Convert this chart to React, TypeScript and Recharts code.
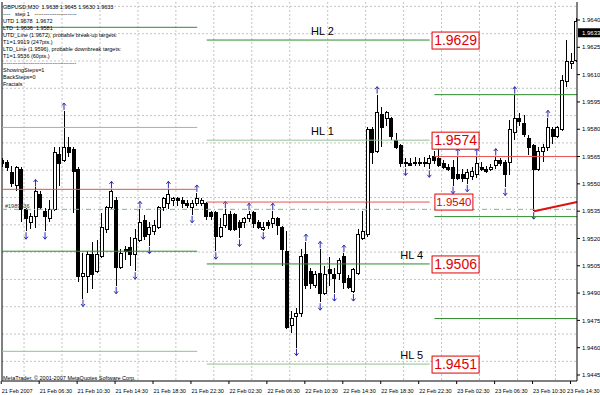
import React from "react";
import {
  ComposedChart,
  Bar,
  XAxis,
  YAxis,
  CartesianGrid,
  ReferenceLine,
  ReferenceDot,
} from "recharts";

// GBPUSD M30, one value per bar
const OPEN = [
  1.9563, 1.9562, 1.9556, 1.9549, 1.9558, 1.9536, 1.9529, 1.9532, 1.9544, 1.9535,
  1.9531, 1.9536, 1.9566, 1.9563, 1.957, 1.9569, 1.9558, 1.9499, 1.9499, 1.9511,
  1.9502, 1.951, 1.9525, 1.9537, 1.9541, 1.9504, 1.9514, 1.9515, 1.9511, 1.9519,
  1.953, 1.9522, 1.9524, 1.9526, 1.9537, 1.9539, 1.9541, 1.9542, 1.9541, 1.9539,
  1.9537, 1.9539, 1.9539, 1.9539, 1.9534, 1.9534, 1.9521, 1.9527, 1.9533, 1.9533,
  1.9529, 1.9529, 1.9531, 1.9534, 1.9529, 1.9525, 1.9529, 1.9528, 1.9531, 1.9526,
  1.9513, 1.9472, 1.9477, 1.9479, 1.9511, 1.9502, 1.9494, 1.9501, 1.949, 1.9503,
  1.95, 1.9501, 1.951, 1.9498, 1.9491, 1.9501, 1.952, 1.9522, 1.958, 1.9568,
  1.9588, 1.9586, 1.9586, 1.9574, 1.9571, 1.9562, 1.9561, 1.9561, 1.9562, 1.9562,
  1.9561, 1.9565, 1.9564, 1.9561, 1.9559, 1.9559, 1.9555, 1.9555, 1.9553, 1.9554,
  1.9555, 1.9559, 1.9558, 1.9558, 1.956, 1.9563, 1.9562, 1.9562, 1.9578, 1.9586,
  1.9583, 1.9575, 1.9571, 1.9558, 1.9568, 1.957, 1.958, 1.9576, 1.958, 1.9606,
  1.9616, 1.9618,
];
const HIGH = [
  1.9564, 1.9563, 1.956, 1.956, 1.9559, 1.9537, 1.9534, 1.9548, 1.9546, 1.9537,
  1.9541, 1.957, 1.957, 1.959, 1.9576, 1.957, 1.9559, 1.9512, 1.9513, 1.9518,
  1.9519, 1.9534, 1.9538, 1.9547, 1.9543, 1.9514, 1.9516, 1.9521, 1.9525, 1.9536,
  1.9533, 1.9529, 1.953, 1.9538, 1.9543, 1.9547, 1.9543, 1.9543, 1.9543, 1.9541,
  1.9541, 1.9545, 1.9542, 1.954, 1.9535, 1.9535, 1.9531, 1.9536, 1.9535, 1.9534,
  1.953, 1.9532, 1.9535, 1.9535, 1.953, 1.9529, 1.953, 1.9535, 1.9532, 1.9527,
  1.9524, 1.948, 1.9482, 1.9514, 1.9518, 1.9504, 1.9502, 1.9514, 1.9505, 1.951,
  1.9504, 1.9509, 1.9512, 1.95, 1.9504, 1.9525, 1.9535, 1.9581, 1.9581, 1.9599,
  1.9592, 1.959, 1.9587, 1.9578, 1.9572, 1.9564, 1.9564, 1.9565, 1.9564, 1.9565,
  1.9566, 1.9568, 1.957, 1.9563, 1.9561, 1.9563, 1.9565, 1.9558, 1.9558, 1.9559,
  1.9565, 1.9562, 1.956, 1.9561, 1.9565, 1.9564, 1.9563, 1.9585, 1.9599, 1.9589,
  1.9588, 1.9577, 1.9572, 1.957, 1.9572, 1.9586, 1.9581, 1.9582, 1.961, 1.9629,
  1.9622, 1.9641,
];
const LOW = [
  1.9559, 1.9557, 1.9548, 1.9546, 1.9529, 1.9524, 1.9525, 1.9526, 1.9536, 1.9524,
  1.9529, 1.9535, 1.9549, 1.9562, 1.9565, 1.9534, 1.9496, 1.9487, 1.949, 1.9492,
  1.9501, 1.9509, 1.9523, 1.9536, 1.9494, 1.9503, 1.9508, 1.9505, 1.9502, 1.9518,
  1.9519, 1.9516, 1.9522, 1.9525, 1.9535, 1.9536, 1.9538, 1.9538, 1.9537, 1.9537,
  1.9533, 1.9538, 1.9538, 1.953, 1.953, 1.9513, 1.952, 1.9526, 1.9524, 1.9524,
  1.952, 1.9526, 1.9529, 1.9526, 1.9525, 1.9524, 1.9525, 1.9526, 1.9522, 1.9505,
  1.947, 1.9468, 1.946, 1.9477, 1.9492, 1.9492, 1.9493, 1.9485, 1.9489, 1.9494,
  1.949, 1.9497, 1.9492, 1.9492, 1.949, 1.95, 1.9519, 1.9521, 1.9561, 1.9567,
  1.957, 1.9582, 1.9574, 1.9569, 1.9559, 1.9559, 1.956, 1.956, 1.956, 1.9559,
  1.9558, 1.9561, 1.9559, 1.9558, 1.9557, 1.9549, 1.9552, 1.9551, 1.955, 1.9552,
  1.9553, 1.9557, 1.9556, 1.9557, 1.9558, 1.956, 1.9548, 1.9555, 1.9574, 1.9582,
  1.9576, 1.9566, 1.9535, 1.9557, 1.9562, 1.9568, 1.9572, 1.9575, 1.9579, 1.9603,
  1.9613, 1.9617,
];
const CLOSE = [
  1.9561, 1.9559, 1.955, 1.9559, 1.9536, 1.9531, 1.9532, 1.9546, 1.9537, 1.9532,
  1.9536, 1.9567, 1.9561, 1.957, 1.9567, 1.9557, 1.9499, 1.9501, 1.9511, 1.95,
  1.9511, 1.9526, 1.9537, 1.9546, 1.9504, 1.9512, 1.9513, 1.9511, 1.952, 1.9529,
  1.9521, 1.9526, 1.9527, 1.9537, 1.9542, 1.9544, 1.9542, 1.9541, 1.9539, 1.9538,
  1.9539, 1.9542, 1.9541, 1.9532, 1.9532, 1.9521, 1.9526, 1.9533, 1.9525, 1.9525,
  1.9526, 1.9531, 1.9533, 1.9528, 1.9526, 1.9526, 1.9527, 1.9531, 1.9527, 1.9514,
  1.9471, 1.9476, 1.9479, 1.951, 1.9494, 1.9495, 1.95, 1.949, 1.95, 1.9501,
  1.9498, 1.9508, 1.9496, 1.9493, 1.9503, 1.9522, 1.9524, 1.958, 1.9567, 1.9589,
  1.9581, 1.9589, 1.9576, 1.957, 1.9561, 1.9561, 1.956, 1.9562, 1.9561, 1.9561,
  1.9564, 1.9563, 1.956, 1.9559, 1.9558, 1.9553, 1.9553, 1.9553, 1.9556, 1.9557,
  1.9561, 1.9558, 1.9557, 1.9559, 1.9563, 1.9561, 1.9555, 1.958, 1.9586, 1.9584,
  1.9577, 1.957, 1.9558, 1.9568, 1.957, 1.9581, 1.9576, 1.9581, 1.9607, 1.9617,
  1.9617, 1.9639,
];

// bar indexes carrying a Fractals arrow
const FRACTAL_UP = [7, 13, 23, 29, 35, 41, 47, 52, 57, 64, 67, 72, 79, 92, 96, 100, 104, 108, 115];
const FRACTAL_DOWN = [5, 9, 17, 24, 28, 31, 40, 45, 50, 55, 62, 67, 70, 74, 85, 90, 95, 98, 106, 112];

const TIME_LABELS = [
  "21 Feb 2007", "21 Feb 06:30", "21 Feb 10:30", "21 Feb 14:30", "21 Feb 18:30",
  "21 Feb 22:30", "22 Feb 02:30", "22 Feb 06:30", "22 Feb 10:30", "22 Feb 14:30",
  "22 Feb 18:30", "22 Feb 22:30", "23 Feb 02:30", "23 Feb 06:30", "23 Feb 10:30",
  "23 Feb 14:30",
];
const Y_TICKS = [
  1.9445, 1.946, 1.9475, 1.949, 1.9505, 1.952, 1.9535, 1.955, 1.9565, 1.958,
  1.9595, 1.961, 1.9625, 1.964,
];

// step levels
const LEFT_GREEN = [1.9636, 1.9581, 1.9513, 1.9458];
const LEFT_RED = 1.9547;
const HL_LEVELS = [1.9629, 1.9574, 1.9506, 1.9451];
const HL_NAMES = ["HL 2", "HL 1", "HL 4", "HL 5"];
const MID_RED = 1.954;
const RIGHT_GREEN = [1.9599, 1.9532, 1.9476];
const RIGHT_RED = 1.9565;
const TARGET = 1.9536;
const TREND_START = { bar: 112, price: 1.9535 };
const TREND_END_PRICE = 1.954;
const LAST_PRICE = 1.9633;

const INFO_LINES = [
  "GBPUSD,M30  1.9638 1.9645 1.9630 1.9633",
  "----   step 1   -----------------------",
  "UTD 1.9678  1.9672",
  "LTD  1.9636  1.9581",
  "UTD_Line (1.9672), probable break-up targets:",
  "T1=1.9919 (247pts.)",
  "LTD_Line (1.9596), probable downbreak targets:",
  "T1=1.9536 (60pts.)",
  "----------------------------------------",
  "ShowingSteps=1",
  "BackSteps=0",
  "Fractals",
];

const X_MIN = -0.15;
const X_MAX = 121.05;
const Y_MIN = 1.94417;
const Y_MAX = 1.96499;
const FONT = "Liberation Sans, Arial, sans-serif";
const DARK_GREEN = "#2e8b2e";
const LIGHT_GREEN = "#8fc28f";
const LEVEL_RED = "#e85050";
const BOX_RED = "#e00000";
const ARROW = "#2b2bb5";

function Candle(props: any) {
  const { x, y, width, height, payload } = props;
  if (x == null || !payload) return null;
  const top = Math.min(y, y + height);
  const h = Math.abs(height);
  const { open, high, low, close, up, down } = payload;
  const span = high - low;
  const py = (v: number) => (span > 0 ? top + ((high - v) / span) * h : top);
  const cx = x + width / 2;
  const bull = close >= open;
  const bTop = py(Math.max(open, close));
  const bBot = py(Math.min(open, close));
  const yH = top;
  const yL = top + h;
  return (
    <g>
      <line x1={cx} x2={cx} y1={yH} y2={yL} stroke="#000" shapeRendering="crispEdges" />
      <rect
        x={cx - 1.5}
        y={bTop}
        width={3}
        height={Math.max(bBot - bTop, 1)}
        fill={bull ? "#fff" : "#000"}
        stroke="#000"
        shapeRendering="crispEdges"
      />
      {up && (
        <path
          d={`M${cx} ${yH - 1} V${yH - 8} M${cx - 2} ${yH - 5.5} L${cx} ${yH - 8} L${cx + 2} ${yH - 5.5}`}
          stroke={ARROW}
          fill="none"
        />
      )}
      {down && (
        <path
          d={`M${cx} ${yL + 1} V${yL + 8} M${cx - 2} ${yL + 5.5} L${cx} ${yL + 8} L${cx + 2} ${yL + 5.5}`}
          stroke={ARROW}
          fill="none"
        />
      )}
    </g>
  );
}

function TimeTick(props: any) {
  const { x, y, payload } = props;
  const k = Math.round(payload.value / 8);
  const last = k === TIME_LABELS.length - 1;
  return (
    <g>
      <line x1={x - 1.5} x2={x - 1.5} y1={y} y2={y + 3} stroke="#000" />
      <text
        x={last ? 599.5 : x - 1}
        y={y + 12}
        textAnchor={last ? "end" : "start"}
        fontSize={5.5}
        fontFamily={FONT}
        fill="#000"
      >
        {TIME_LABELS[k]}
      </text>
    </g>
  );
}

function seg(from: number, to: number, price: number) {
  return [
    { x: from, y: price },
    { x: to, y: price },
  ];
}

export default function App() {
  const data = OPEN.map((o, i) => ({
    i,
    open: o,
    high: HIGH[i],
    low: LOW[i],
    close: CLOSE[i],
    range: [LOW[i], HIGH[i]],
    up: FRACTAL_UP.includes(i),
    down: FRACTAL_DOWN.includes(i),
  }));
  const gridY = Y_TICKS.map((t) => t + 0.00075);
  const gridX = TIME_LABELS.slice(0, 15).map((_, k) => k * 8 + 4.5);
  const xTicks = TIME_LABELS.map((_, k) => k * 8);

  return (
    <div style={{ position: "relative", width: 600, height: 395, background: "#fff" }}>
      <style>{"body{margin:0}"}</style>
      <ComposedChart width={600} height={395} data={data} margin={{ top: 2, right: 0, left: 2, bottom: 0 }}>
        <CartesianGrid stroke="#c4c4c4" strokeDasharray="2 2" horizontalValues={gridY} verticalValues={gridX} />
        <XAxis
          type="number"
          dataKey="i"
          domain={[X_MIN, X_MAX]}
          ticks={xTicks}
          interval={0}
          allowDataOverflow
          height={14}
          tickSize={0}
          tickMargin={0}
          tickLine={false}
          axisLine={{ stroke: "#000" }}
          tick={<TimeTick />}
        />
        <YAxis
          orientation="right"
          domain={[Y_MIN, Y_MAX]}
          ticks={Y_TICKS}
          interval={0}
          allowDataOverflow
          width={23}
          tickSize={3}
          tickMargin={2}
          axisLine={{ stroke: "#000" }}
          tickLine={{ stroke: "#000" }}
          tick={{ fontSize: 6, fill: "#000", fontFamily: FONT }}
          tickFormatter={(v: number) => v.toFixed(4)}
        />
        <ReferenceLine x={X_MIN} stroke="#000" ifOverflow="visible" />

        {LEFT_GREEN.map((p, k) => (
          <ReferenceLine
            key={"lg" + k}
            segment={seg(X_MIN, 41, p)}
            stroke={k % 2 ? LIGHT_GREEN : DARK_GREEN}
            ifOverflow="visible"
          />
        ))}
        <ReferenceLine segment={seg(X_MIN, 41, LEFT_RED)} stroke={LEVEL_RED} ifOverflow="visible" />
        {HL_LEVELS.map((p, k) => (
          <ReferenceLine
            key={"hl" + k}
            segment={seg(43, 90, p)}
            stroke={k % 2 ? LIGHT_GREEN : DARK_GREEN}
            ifOverflow="visible"
          />
        ))}
        <ReferenceLine segment={seg(43, 90, MID_RED)} stroke={LEVEL_RED} ifOverflow="visible" />
        {RIGHT_GREEN.map((p, k) => (
          <ReferenceLine key={"rg" + k} segment={seg(91, X_MAX, p)} stroke={DARK_GREEN} ifOverflow="visible" />
        ))}
        <ReferenceLine segment={seg(91, X_MAX, RIGHT_RED)} stroke={LEVEL_RED} ifOverflow="visible" />
        <ReferenceLine
          segment={seg(X_MIN, X_MAX, TARGET)}
          stroke="#7db87d"
          strokeDasharray="5 3 1 3"
          ifOverflow="visible"
        />
        <ReferenceLine
          segment={[
            { x: TREND_START.bar, y: TREND_START.price },
            { x: X_MAX, y: TREND_END_PRICE },
          ]}
          stroke="#e01010"
          strokeWidth={2}
          ifOverflow="visible"
        />

        <Bar dataKey="range" shape={Candle} barSize={4} isAnimationActive={false} />

        {HL_LEVELS.map((p, k) => (
          <ReferenceDot
            key={"hlt" + k}
            x={k < 2 ? 67.4 : 86.2}
            y={p}
            ifOverflow="visible"
            shape={(s: any) => (
              <text x={s.cx} y={s.cy - 5} textAnchor="middle" fontSize={11} fontFamily={FONT} fill="#000">
                {HL_NAMES[k]}
              </text>
            )}
          />
        ))}
        {HL_LEVELS.map((p, k) => (
          <ReferenceDot
            key={"hlb" + k}
            x={90.5}
            y={p}
            ifOverflow="visible"
            shape={(s: any) => (
              <g>
                <rect x={s.cx} y={s.cy - 8} width={47} height={17} fill="#fff" stroke={BOX_RED} />
                <text
                  x={s.cx + 23.5}
                  y={s.cy + 5}
                  textAnchor="middle"
                  fontSize={14}
                  fontFamily={FONT}
                  fill={BOX_RED}
                >
                  {p.toFixed(4)}
                </text>
              </g>
            )}
          />
        ))}
        <ReferenceDot
          x={91.1}
          y={MID_RED}
          ifOverflow="visible"
          shape={(s: any) => (
            <g>
              <rect x={s.cx} y={s.cy - 8} width={38} height={16} fill="#fff" stroke={BOX_RED} />
              <text x={s.cx + 19} y={s.cy + 4} textAnchor="middle" fontSize={11.5} fontFamily={FONT} fill={BOX_RED}>
                {MID_RED.toFixed(4)}
              </text>
            </g>
          )}
        />
        <ReferenceDot
          x={X_MIN}
          y={TARGET}
          ifOverflow="visible"
          shape={(s: any) => (
            <text x={s.cx + 3} y={s.cy - 1.5} fontSize={5.5} fontFamily={FONT} fill="#333">
              #1989336
            </text>
          )}
        />
        <ReferenceDot
          x={X_MAX}
          y={LAST_PRICE}
          ifOverflow="visible"
          shape={(s: any) => (
            <g>
              <rect x={s.cx + 1} y={s.cy - 4.5} width={22} height={9} fill="#000" />
              <text x={s.cx + 5} y={s.cy + 2} fontSize={6} fontFamily={FONT} fill="#fff">
                {LAST_PRICE.toFixed(4)}
              </text>
            </g>
          )}
        />
      </ComposedChart>
      <svg
        width={600}
        height={395}
        style={{ position: "absolute", left: 0, top: 0, pointerEvents: "none" }}
      >
        {INFO_LINES.map((t, k) => (
          <text
            key={k}
            x={3}
            y={8.5 + k * 7}
            fontSize={5.5}
            fontFamily={FONT}
            fill="#000"
            style={{ whiteSpace: "pre" }}
          >
            {t}
          </text>
        ))}
        <text x={3} y={379.5} fontSize={5.5} fontFamily={FONT} fill="#000">
          MetaTrader, © 2001-2007 MetaQuotes Software Corp.
        </text>
      </svg>
    </div>
  );
}
